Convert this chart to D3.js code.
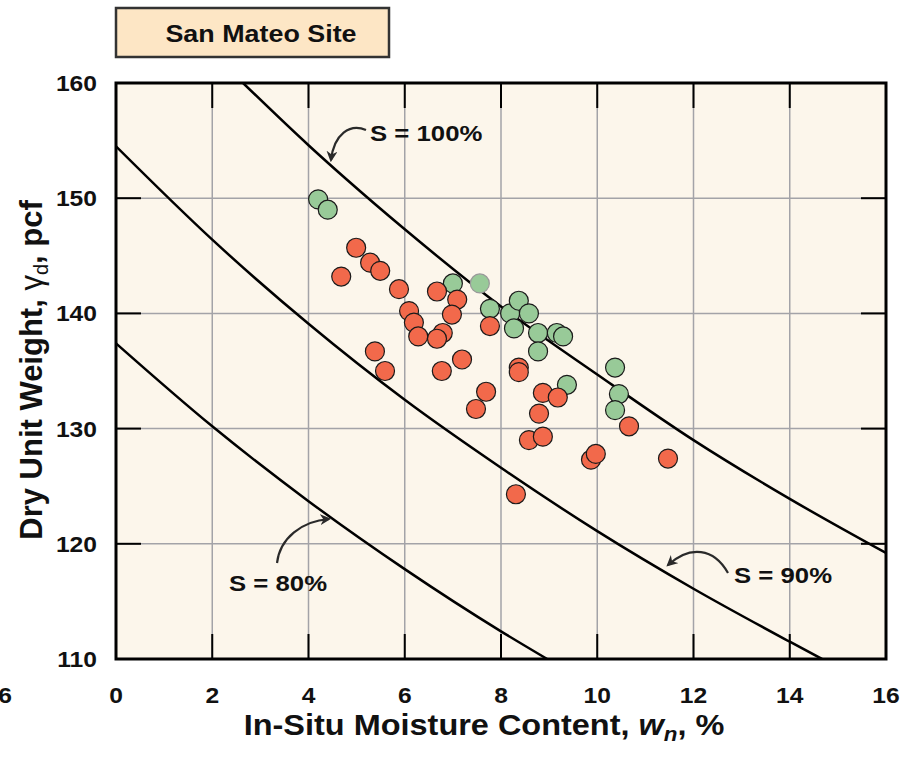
<!DOCTYPE html>
<html>
<head>
<meta charset="utf-8">
<script src="https://cdn.jsdelivr.net/npm/d3@7"></script>
<style>
  body { margin: 0; background: #fff; }
  text { font-family: "Liberation Sans", Arial, sans-serif; font-weight: bold; fill: #111; }
</style>
</head>
<body>
<svg width="914" height="759"></svg>
<script>
var svg = d3.select("svg");
var plot_bg = "#fcf6eb";
var grid_color = "#a3a3a8";
var red_color = "#f2694b";
var green_color = "#98ca98";
var SX = 1.12;   // the source picture is a bit wider than tall

// axis ticks
var xTicks = [0, 2, 4, 6, 8, 10, 12, 14, 16];
var yTicks = [110, 120, 130, 140, 150, 160];

// saturation curves [w %, dry unit weight pcf]
var s100 = [[2.64, 160], [4, 154.6], [4.8, 151.6], [6, 147.3], [8, 140.6], [10, 134.7], [12, 129.0], [14, 123.9], [16, 119.2]];
var s90 = [[0, 154.5], [2, 146.4], [4, 139.1], [6, 132.5], [8, 126.6], [10, 121.1], [12, 116.1], [14, 111.5], [14.67, 110]];
var s80 = [[0, 137.4], [2, 130.2], [4, 123.7], [6, 117.8], [8, 112.4], [8.96, 110]];

// samples
var greenPts = [[4.2, 149.9], [4.4, 149.0], [7.0, 142.6], [7.77, 140.4], [8.19, 140.0], [8.37, 141.1],
                [8.58, 140.0], [8.27, 138.7], [8.77, 138.3], [8.77, 136.7], [9.16, 138.3], [9.29, 138.0],
                [9.37, 133.8], [10.37, 135.3], [10.45, 133.0], [10.37, 131.6]];
var greenFaint = [[7.56, 142.6]];
var redPts = [[4.99, 145.7], [4.68, 143.2], [5.28, 144.4], [5.49, 143.7], [5.88, 142.1], [6.09, 140.2],
              [6.19, 139.2], [6.28, 138.0], [6.67, 141.9], [7.09, 141.2], [6.98, 139.9], [6.79, 138.3],
              [6.67, 137.8], [7.77, 138.9], [5.38, 136.7], [5.59, 135.0], [6.77, 135.0], [7.19, 136.0],
              [7.69, 133.2], [7.48, 131.7], [8.37, 135.3], [8.37, 134.9], [8.87, 133.1], [9.18, 132.7],
              [8.79, 131.3], [8.58, 129.0], [8.87, 129.3], [9.87, 127.3], [9.97, 127.8], [10.66, 130.2],
              [11.47, 127.4], [8.31, 124.3]];

var pLeft = 116, pRight = 886, pTop = 83, pBottom = 659;
var x = d3.scaleLinear().domain([0, 16]).range([pLeft, pRight]);
var y = d3.scaleLinear().domain([110, 160]).range([pBottom, pTop]);

function label(px, py, str, size, anchor) {
    return svg.append("text")
              .attr("transform", "translate(" + px + "," + py + ") scale(" + SX + ",1)")
              .attr("text-anchor", anchor || "start")
              .style("font-size", size + "px")
              .text(str);
}

// title box
svg.append("rect")
   .attr("x", 116).attr("y", 8).attr("width", 273).attr("height", 49)
   .attr("fill", "#fde6c5").attr("stroke", "#333").attr("stroke-width", 2.5);
label(261, 42, "San Mateo Site", 24, "middle");

// plot background
svg.append("rect")
   .attr("x", pLeft).attr("y", pTop).attr("width", pRight - pLeft).attr("height", pBottom - pTop)
   .attr("fill", plot_bg);

// grid
var innerX = xTicks.slice(1, -1);
var innerY = yTicks.slice(1, -1);
svg.append("g").selectAll("line").data(innerX).enter().append("line")
   .attr("x1", d => x(d)).attr("x2", d => x(d)).attr("y1", pTop).attr("y2", pBottom)
   .attr("stroke", grid_color).attr("stroke-width", 1.5);
svg.append("g").selectAll("line").data(innerY).enter().append("line")
   .attr("y1", d => y(d)).attr("y2", d => y(d)).attr("x1", pLeft).attr("x2", pRight)
   .attr("stroke", grid_color).attr("stroke-width", 1.5);

// inward ticks
var tk = 25;
var ticks = svg.append("g").attr("stroke", "#000").attr("stroke-width", 2);
innerX.forEach(function(d) {
    ticks.append("line").attr("x1", x(d)).attr("x2", x(d)).attr("y1", pTop).attr("y2", pTop + tk);
    ticks.append("line").attr("x1", x(d)).attr("x2", x(d)).attr("y1", pBottom).attr("y2", pBottom - tk);
});
innerY.forEach(function(d) {
    ticks.append("line").attr("y1", y(d)).attr("y2", y(d)).attr("x1", pLeft).attr("x2", pLeft + tk);
    ticks.append("line").attr("y1", y(d)).attr("y2", y(d)).attr("x1", pRight).attr("x2", pRight - tk);
});

// curves
svg.append("clipPath").attr("id", "clip").append("rect")
   .attr("x", pLeft).attr("y", pTop).attr("width", pRight - pLeft).attr("height", pBottom - pTop);
var line = d3.line().x(d => x(d[0])).y(d => y(d[1])).curve(d3.curveMonotoneX);
[s100, s90, s80].forEach(function(c) {
    svg.append("path").datum(c).attr("d", line)
       .attr("clip-path", "url(#clip)")
       .attr("fill", "none").attr("stroke", "#000").attr("stroke-width", 2.5);
});

// points
function dots(data, fill, stroke) {
    svg.append("g").selectAll("circle").data(data).enter().append("circle")
       .attr("cx", d => x(d[0])).attr("cy", d => y(d[1])).attr("r", 9.5)
       .attr("fill", fill).attr("stroke", stroke).attr("stroke-width", 1.2);
}
dots(greenFaint, green_color, "#999");
dots(greenPts, green_color, "#1a1a1a");
dots(redPts, red_color, "#1a1a1a");

// frame
svg.append("rect")
   .attr("x", pLeft).attr("y", pTop).attr("width", pRight - pLeft).attr("height", pBottom - pTop)
   .attr("fill", "none").attr("stroke", "#000").attr("stroke-width", 3);

// tick labels
xTicks.forEach(function(d) { label(x(d), 703, d, 22, "middle"); });
label(12, 703, "6", 22, "end");
yTicks.forEach(function(d) { label(97, y(d) + 8, d, 22, "end"); });

// annotations with curved arrows
svg.append("defs").append("marker")
   .attr("id", "arrow").attr("viewBox", "0 0 10 10").attr("refX", 8).attr("refY", 5)
   .attr("markerWidth", 5).attr("markerHeight", 5).attr("orient", "auto")
   .append("path").attr("d", "M0,0 L10,5 L0,10 L3,5 Z").attr("fill", "#2a2a2a");
var arrows = ["M366,130 C350,123 334,134 331,160",
              "M728,573 C714,548 690,545 668,565",
              "M277,563 C280,538 302,521 329,519"];
arrows.forEach(function(a) {
    svg.append("path").attr("d", a).attr("fill", "none")
       .attr("stroke", "#2a2a2a").attr("stroke-width", 2.2).attr("marker-end", "url(#arrow)");
});
label(370, 141, "S = 100%", 23);
label(734, 583, "S = 90%", 23);
label(229, 591, "S = 80%", 23);

// axis titles
var xt = svg.append("text")
   .attr("transform", "translate(484,735) scale(" + SX + ",1)")
   .attr("text-anchor", "middle").style("font-size", "29px");
xt.append("tspan").text("In-Situ Moisture Content, ");
xt.append("tspan").style("font-style", "italic").text("w");
xt.append("tspan").style("font-style", "italic").style("font-size", "20px").attr("dy", 6).text("n");
xt.append("tspan").attr("dy", -6).text(", %");

var yt = svg.append("text")
   .attr("transform", "translate(42,370) rotate(-90)")
   .attr("text-anchor", "middle").style("font-size", "31px");
yt.append("tspan").text("Dry Unit Weight, ");
yt.append("tspan").style("font-weight", "normal").text("γ");
yt.append("tspan").style("font-weight", "normal").style("font-size", "20px").attr("dy", 6).text("d");
yt.append("tspan").attr("dy", -6).text(", pcf");
</script>
</body>
</html>
